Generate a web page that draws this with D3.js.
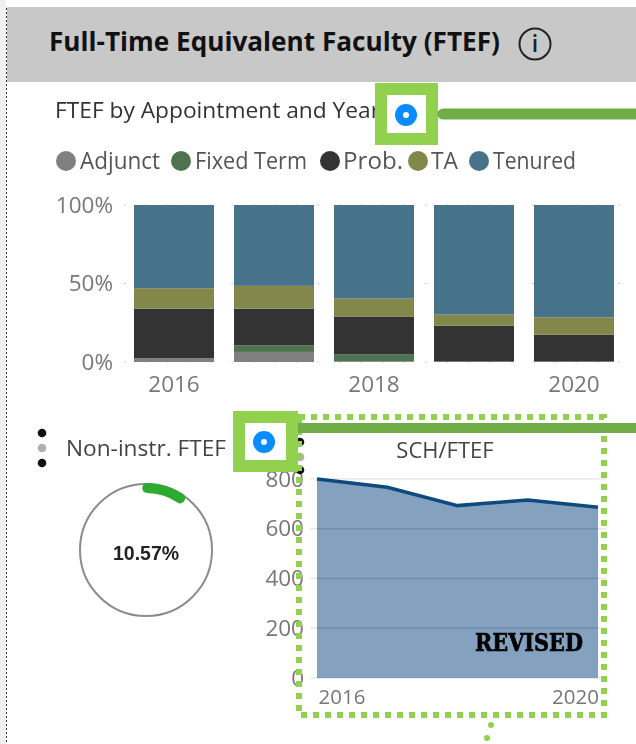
<!DOCTYPE html>
<html><head><meta charset="utf-8">
<script src="https://cdn.jsdelivr.net/npm/d3@7"></script>
<style>
html,body{margin:0;padding:0;background:#fff;overflow:hidden}
svg{display:block;filter:blur(0.35px)}
text{font-family:"Open Sans","Noto Sans",sans-serif}
</style></head><body><svg id="c" width="636" height="744"></svg>
<script>
const years=[2016,2017,2018,2019,2020];
const seriesNames=["Adjunct","Fixed Term","Prob.","TA","Tenured"];
const seriesColors=["#808080","#4f7350","#333333","#83884a","#47738a"];
const adjunct=[2.5,6.4,0.3,0.3,0.3];
const fixedTerm=[0,4.2,4.7,0,0];
const prob=[31.5,23.4,24,22.9,17.2];
const ta=[13,14.5,11.4,7,11];
const tenured=[53,51.5,59.6,69.8,71.5];
const pctTicks=[0,50,100];
const barXLabels=[2016,2018,2020];
const schValues=[800,767,693,716,686];
const schTicks=[0,200,400,600,800];
const schXLabels=[2016,2020];
const nonInstr=10.57;

const svg=d3.select("#c");
const fit=(sel,w)=>sel.attr("textLength",w).attr("lengthAdjust","spacingAndGlyphs");
// page chrome
svg.append("rect").attr("x",0).attr("y",0).attr("width",6).attr("height",744).attr("fill","#f0f0f0");
svg.append("line").attr("x1",6.5).attr("x2",6.5).attr("y1",8).attr("y2",744).attr("stroke","#333").attr("stroke-dasharray","2,2");
svg.append("rect").attr("x",7).attr("y",7).attr("width",629).attr("height",75).attr("fill","#c8c8c8");
fit(svg.append("text").attr("x",49).attr("y",51).attr("font-size",27).attr("font-weight",700).attr("fill","#111").text("Full-Time Equivalent Faculty (FTEF)"),451);
const info=svg.append("g").attr("transform","translate(535,44)");
info.append("circle").attr("r",15.5).attr("fill","none").attr("stroke","#222").attr("stroke-width",2);
info.append("text").attr("text-anchor","middle").attr("y",8).attr("font-size",23).attr("font-weight",600).attr("fill","#222").text("i");
fit(svg.append("text").attr("x",55).attr("y",118).attr("font-size",21).attr("font-weight",500).attr("fill","#333").text("FTEF by Appointment and Year"),325);

// legend
const legendX=[66,181,330,418,479], legendLabelX=[80,195,343,431,493], legendW=[80,112,60,27,83];
seriesNames.forEach((n,i)=>{
  svg.append("circle").attr("cx",legendX[i]).attr("cy",161).attr("r",10).attr("fill",seriesColors[i]);
  fit(svg.append("text").attr("x",legendLabelX[i]).attr("y",169).attr("font-size",23).attr("fill","#555").text(n),legendW[i]);
});

// stacked bars
const x=d3.scaleBand().domain(years).range([124,624]).paddingInner(0.2).paddingOuter(0.1);
const y=d3.scaleLinear().domain([0,100]).range([362,205]);
svg.append("g").selectAll("line").data(pctTicks).join("line").attr("x1",124).attr("x2",624).attr("y1",d=>y(d)).attr("y2",d=>y(d)).attr("stroke","#bbb").attr("stroke-dasharray","1.5,20");
const rows=years.map((yr,i)=>({year:yr,"Adjunct":adjunct[i],"Fixed Term":fixedTerm[i],"Prob.":prob[i],"TA":ta[i],"Tenured":tenured[i]}));
const stack=d3.stack().keys(seriesNames)(rows);
svg.append("g").selectAll("g").data(stack).join("g").attr("fill",(d,i)=>seriesColors[i])
 .selectAll("rect").data(d=>d).join("rect")
 .attr("x",d=>x(d.data.year)).attr("width",x.bandwidth())
 .attr("y",d=>y(d[1])).attr("height",d=>y(d[0])-y(d[1]));
const yAxis=svg.append("g").attr("transform","translate(124,0)").call(d3.axisLeft(y).tickValues(pctTicks).tickFormat(d=>d+"%").tickSize(0).tickPadding(11));
yAxis.select(".domain").remove();
yAxis.selectAll("text").attr("font-size",22.5).attr("fill","#777").style("font-family",'"Open Sans",sans-serif');
const xAxis=svg.append("g").attr("transform","translate(0,362)").call(d3.axisBottom(x).tickValues(barXLabels).tickSize(0).tickPadding(14));
xAxis.select(".domain").remove();
xAxis.selectAll("text").attr("font-size",22.5).attr("fill","#777").style("font-family",'"Open Sans",sans-serif');

// non-instr
[[433,"#111"],[448,"#b0b0b0"],[463,"#111"]].forEach(([cy,f])=>svg.append("circle").attr("cx",42).attr("cy",cy).attr("r",4.3).attr("fill",f));
fit(svg.append("text").attr("x",66).attr("y",456).attr("font-size",22).attr("fill","#444").text("Non-instr. FTEF"),160);
const gauge=svg.append("g").attr("transform","translate(146,550)");
gauge.append("circle").attr("r",66).attr("fill","none").attr("stroke","#8c8c8c").attr("stroke-width",2);
const angle=d3.scaleLinear().domain([0,100]).range([0,2*Math.PI]);
gauge.append("path").attr("d",d3.arc().innerRadius(57).outerRadius(67).cornerRadius(5).startAngle(-0.06).endAngle(angle(nonInstr))()).attr("fill","#2eaa2e");
gauge.append("text").attr("text-anchor","middle").attr("y",10).attr("font-size",19.5).attr("font-weight",700).attr("fill","#222").style("font-family",'"Liberation Sans",sans-serif').text(nonInstr.toFixed(2)+"%");

// SCH/FTEF
svg.append("text").attr("x",445).attr("y",458).attr("text-anchor","middle").attr("font-size",22).attr("fill","#444").text("SCH/FTEF");
const x2=d3.scalePoint().domain(years).range([317,598]);
const y2=d3.scaleLinear().domain([0,800]).range([678,479]);
const gy=svg.append("g").attr("transform","translate(304,0)").call(d3.axisLeft(y2).tickValues(schTicks).tickSize(0).tickPadding(0));
gy.select(".domain").remove();
gy.selectAll("text").attr("font-size",22.5).attr("fill","#777").style("font-family",'"Open Sans",sans-serif');
svg.append("g").selectAll("line").data(schTicks).join("line").attr("x1",310).attr("x2",606).attr("y1",d=>y2(d)).attr("y2",d=>y2(d)).attr("stroke","#e8e8e8").attr("stroke-width",1.5);
svg.append("path").datum(schValues).attr("fill","#0a4680").attr("fill-opacity",0.5)
 .attr("d",d3.area().x((d,i)=>x2(years[i])).y0(y2(0)).y1(d=>y2(d)));
svg.append("g").selectAll("line").data(schTicks.slice(1,4)).join("line").attr("x1",317).attr("x2",598).attr("y1",d=>y2(d)).attr("y2",d=>y2(d)).attr("stroke","#5d7f9e").attr("stroke-opacity",0.45);
svg.append("path").datum(schValues).attr("fill","none").attr("stroke","#0d4a80").attr("stroke-width",3.5)
 .attr("d",d3.line().x((d,i)=>x2(years[i])).y(d=>y2(d)));
schXLabels.forEach((l,i)=>svg.append("text").attr("x",i?575.5:342).attr("y",704).attr("text-anchor","middle").attr("font-size",20.5).attr("fill","#777").text(l));
fit(svg.append("text").attr("x",475).attr("y",651).attr("font-size",25).attr("font-weight",900).attr("fill","#000").attr("stroke","#000").attr("stroke-width",0.7).style("font-family",'"DejaVu Serif",serif').text("REVISED"),108);

// annotations
const green="#92d050", dark="#70ad47";
[[442,"#111"],[457,"#b0b0b0"],[470,"#111"]].forEach(([b,f])=>svg.append("circle").attr("cx",300).attr("cy",b).attr("r",4.3).attr("fill",f));
svg.append("rect").attr("x",299).attr("y",417).attr("width",305).attr("height",298).attr("fill","none").attr("stroke",green).attr("stroke-width",6).attr("stroke-dasharray","6,6");
[[491,725],[487,738]].forEach(([a,b])=>svg.append("circle").attr("cx",a).attr("cy",b).attr("r",3).attr("fill",green));
svg.append("line").attr("x1",298).attr("x2",640).attr("y1",428).attr("y2",428).attr("stroke",dark).attr("stroke-width",10);
function marker(bx,by,bw,bh,cx,cy){
  svg.append("rect").attr("x",bx+6).attr("y",by+6).attr("width",bw-12).attr("height",bh-12).attr("fill","#fff").attr("stroke",green).attr("stroke-width",12);
  svg.append("circle").attr("cx",cx).attr("cy",cy).attr("r",11).attr("fill","#0a8bff");
  svg.append("circle").attr("cx",cx).attr("cy",cy).attr("r",3).attr("fill","#fff");
}
marker(375,83,63,62,406,115);
marker(233,411,65,61,264,442);
svg.append("line").attr("x1",443).attr("x2",640).attr("y1",114).attr("y2",114).attr("stroke",dark).attr("stroke-width",11).attr("stroke-linecap","round");
</script></body></html>
